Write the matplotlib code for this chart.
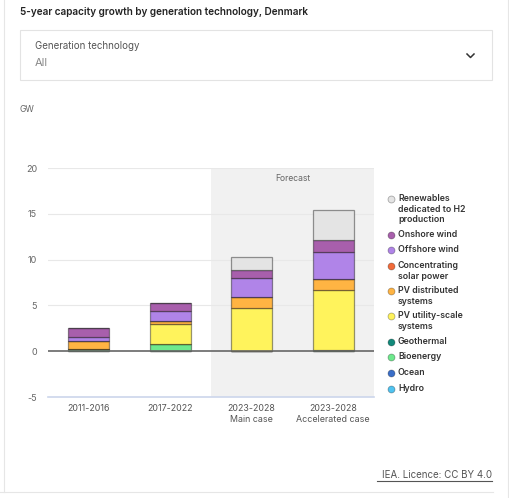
import numpy as np
import matplotlib
matplotlib.use("Agg")
import matplotlib.pyplot as plt
from matplotlib.lines import Line2D
from matplotlib.patches import Rectangle

plt.rcParams["font.family"] = ["Inter", "DejaVu Sans"]

W, H = 510, 498

categories = ["2011-2016", "2017-2022", "2023-2028\nMain case", "2023-2028\nAccelerated case"]

# stacked bottom -> top, GW
hydro = [0.0, 0.0, 0.0, 0.0]
ocean = [0.0, 0.0, 0.0, 0.0]
bioenergy = [0.22, 0.8, 0.05, 0.15]
geothermal = [0.0, 0.0, 0.0, 0.0]
pv_utility = [0.05, 2.2, 4.7, 6.55]
pv_distributed = [0.8, 0.3, 1.2, 1.2]
csp = [0.0, 0.0, 0.0, 0.0]
offshore = [0.44, 1.1, 2.0, 2.92]
onshore = [1.05, 0.85, 0.88, 1.35]
h2 = [0.0, 0.0, 1.5, 3.2]

series_names = ["Hydro", "Ocean", "Bioenergy", "Geothermal", "PV utility-scale\nsystems",
                "PV distributed\nsystems", "Concentrating\nsolar power", "Offshore wind",
                "Onshore wind", "Renewables\ndedicated to H2\nproduction"]
series_values = [hydro, ocean, bioenergy, geothermal, pv_utility, pv_distributed, csp,
                 offshore, onshore, h2]
series_colors = ["#4fc3f0", "#3a6ec8", "#6ee98d", "#11897a", "#fff35c", "#ffb443",
                 "#f26b3a", "#b084e8", "#a85fac", "#e4e4e4"]

fig = plt.figure(figsize=(W / 100, H / 100), dpi=100)
fig.patch.set_facecolor("white")


def fx(px):
    return px / W


def fy(py):
    return 1 - py / H


# card borders
fig.add_artist(Line2D([fx(4), fx(4)], [fy(0), fy(492)], color="#e6e6e6", lw=0.8))
fig.add_artist(Line2D([fx(508), fx(508)], [fy(0), fy(498)], color="#e6e6e6", lw=0.8))
fig.add_artist(Line2D([fx(0), fx(493)], [fy(492), fy(492)], color="#e6e6e6", lw=0.8))

fig.text(fx(20), fy(12), "5-year capacity growth by generation technology, Denmark",
         fontsize=7.2, fontweight="semibold", color="#222222", va="center")

# dropdown
fig.add_artist(Rectangle((fx(20), fy(80)), fx(472), 50 / H, transform=fig.transFigure,
                         facecolor="white", edgecolor="#e3e3e3", lw=0.8))
fig.text(fx(35), fy(46), "Generation technology", fontsize=7, color="#555555", va="center")
fig.text(fx(35), fy(63.5), "All", fontsize=8, color="#888888", va="center")
fig.add_artist(Line2D([fx(467), fx(470.5), fx(474)], [fy(54), fy(57.5), fy(54)],
                      color="#333333", lw=1.1))

fig.text(fx(20), fy(110), "GW", fontsize=6.2, color="#666666", va="center")

ax = fig.add_axes([fx(48), fy(397), fx(374) - fx(48), (397 - 168) / H])
x = np.arange(len(categories))
ax.axvspan(1.5, 3.5, color="#f1f1f1", zorder=0, lw=0)
bottom = np.zeros(len(categories))
for vals, col in zip(series_values, series_colors):
    vals = np.array(vals)
    ax.bar(x, vals, 0.5, bottom=bottom, color=col, edgecolor=(0, 0, 0, 0.4),
           linewidth=0.9, zorder=3)
    bottom += vals

ax.set_xlim(-0.5, 3.5)
ax.set_ylim(-5, 20)
ax.set_yticks([-5, 0, 5, 10, 15, 20])
ax.set_yticklabels(["-5", "0", "5", "10", "15", "20"])
for v in [5, 10, 15, 20]:
    ax.axhline(v, color="#e8e8e8", lw=0.8, zorder=1)
ax.axhline(-5, color="#ccd6eb", lw=1.2, zorder=1, clip_on=False)
ax.axhline(0, color="#666666", lw=1.2, zorder=4)
ax.set_xticks(x)
ax.set_xticklabels(categories, fontsize=6.4, color="#555555", linespacing=1.25)
ax.tick_params(axis="y", length=0, pad=8, labelsize=6.5, labelcolor="#666666")
ax.tick_params(axis="x", length=0, pad=5)
for s in ax.spines.values():
    s.set_visible(False)
ax.set_facecolor("none")
ax.text(2.5, 18.9, "Forecast", ha="center", va="center", fontsize=6.2, color="#666666")

# legend, drawn top -> bottom
legend_y = [199, 235, 250, 266, 291, 316, 342, 357, 373, 389]
legend_order = list(range(len(series_names)))[::-1]
for ypos, idx in zip(legend_y, legend_order):
    fig.add_artist(Line2D([fx(391)], [fy(ypos)], marker="o", markersize=5,
                          markerfacecolor=series_colors[idx], markeredgecolor=(0, 0, 0, 0.3),
                          markeredgewidth=0.6, transform=fig.transFigure))
    fig.text(fx(398), fy(ypos - 5), series_names[idx], fontsize=6.3, fontweight="semibold",
             color="#333333", va="top", linespacing=1.25)

fig.text(fx(492), fy(475), "IEA. Licence: CC BY 4.0", fontsize=7, color="#555555",
         ha="right", va="center")
fig.add_artist(Line2D([fx(377), fx(492)], [fy(480.5), fy(480.5)], color="#555555", lw=0.8))

fig.savefig("out.png", dpi=100)
